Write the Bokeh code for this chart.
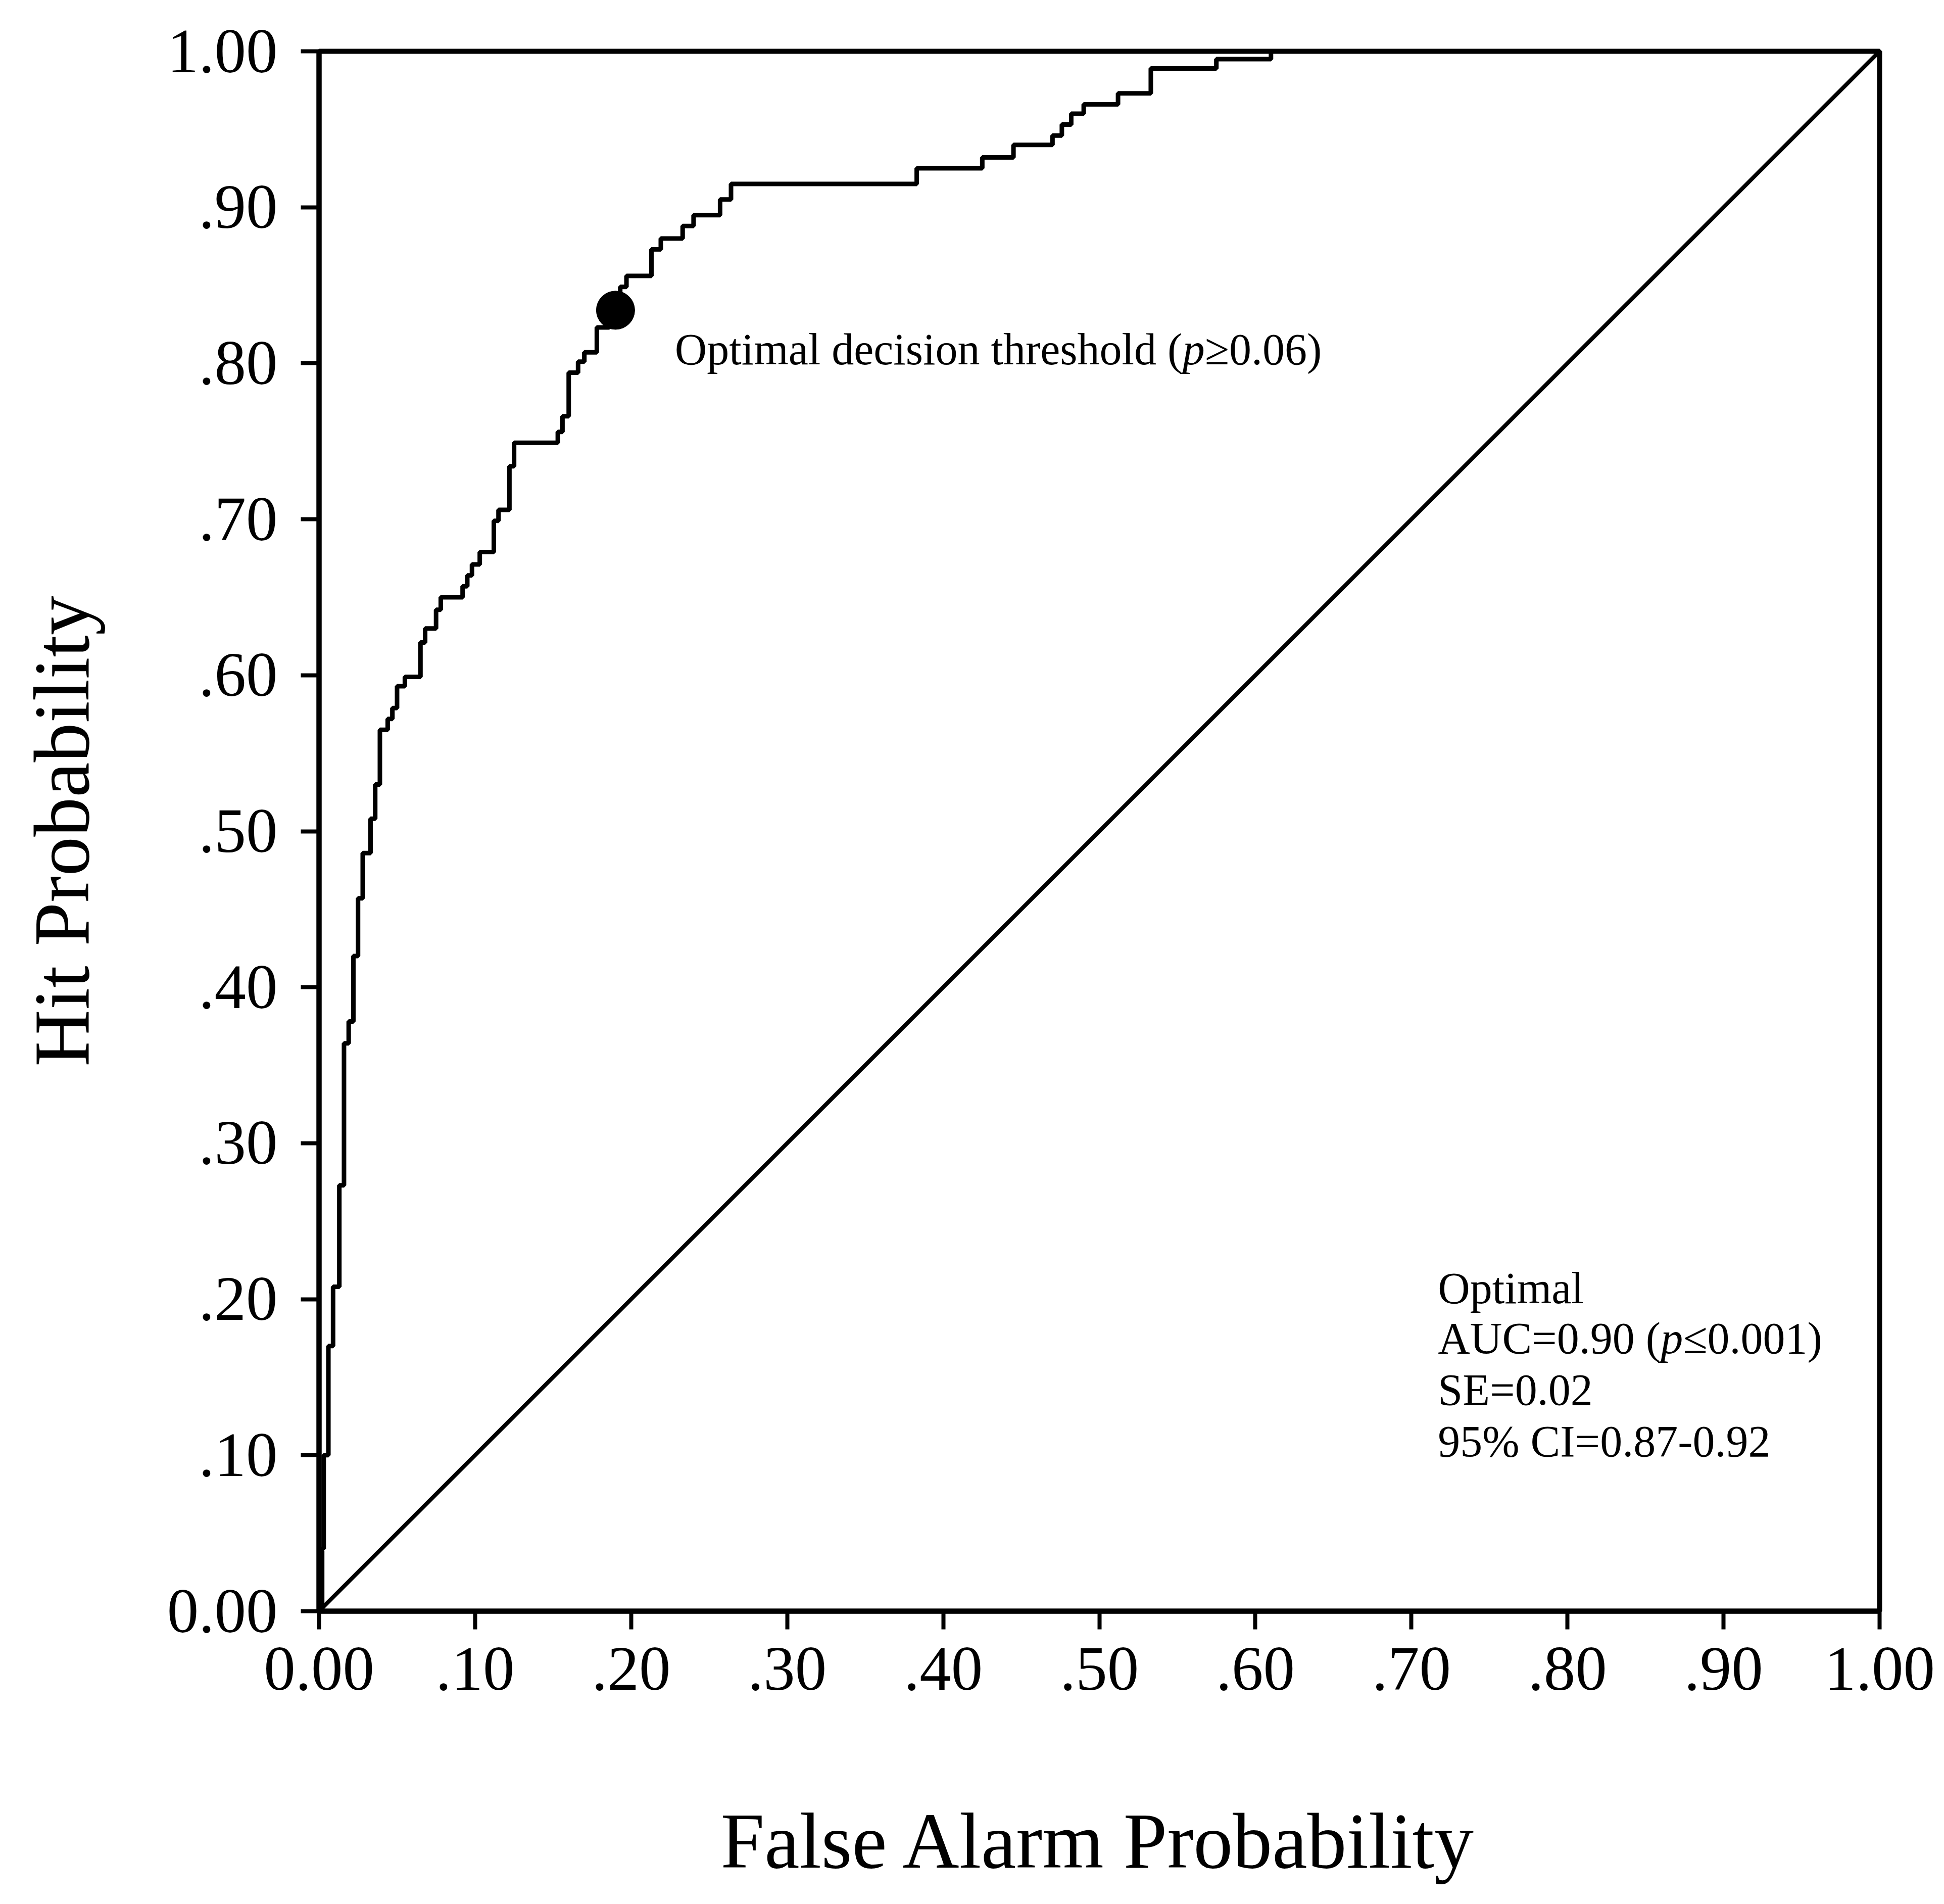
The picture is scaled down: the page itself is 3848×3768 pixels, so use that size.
from bokeh.plotting import figure
from bokeh.models import Range1d, FixedTicker, Label
from bokeh.embed import file_html
from bokeh.resources import INLINE

# ---------------- data ----------------
# ROC curve vertices: at each false-alarm value the hit probability rises to the listed value
fpr = [0.000, 0.002, 0.003, 0.006, 0.009, 0.013, 0.016, 0.019, 0.022, 0.025,
       0.028, 0.033, 0.036, 0.039, 0.044, 0.047, 0.050, 0.055, 0.065, 0.068,
       0.075, 0.078, 0.092, 0.095, 0.098, 0.103, 0.112, 0.115, 0.122, 0.125,
       0.153, 0.156, 0.160, 0.166, 0.170, 0.178, 0.186, 0.193, 0.197, 0.213,
       0.219, 0.233, 0.240, 0.257, 0.264, 0.383, 0.425, 0.445, 0.470, 0.476,
       0.482, 0.490, 0.512, 0.533, 0.575, 0.610, 1.000]
tpr = [0.000, 0.040, 0.100, 0.170, 0.208, 0.273, 0.364, 0.378, 0.420, 0.457,
       0.486, 0.508, 0.530, 0.565, 0.572, 0.579, 0.593, 0.599, 0.621, 0.630,
       0.642, 0.650, 0.657, 0.664, 0.671, 0.679, 0.699, 0.706, 0.734, 0.749,
       0.756, 0.766, 0.794, 0.801, 0.807, 0.823, 0.840, 0.849, 0.856, 0.873,
       0.880, 0.888, 0.895, 0.905, 0.915, 0.925, 0.932, 0.940, 0.946, 0.953,
       0.960, 0.966, 0.973, 0.989, 0.995, 1.000, 1.000]

chance_x = [0.0, 1.0]
chance_y = [0.0, 1.0]

threshold_fpr = [0.190]
threshold_tpr = [0.834]

ticks = [0.0, 0.1, 0.2, 0.3, 0.4, 0.5, 0.6, 0.7, 0.8, 0.9, 1.0]
tick_labels = ["0.00", ".10", ".20", ".30", ".40", ".50", ".60", ".70", ".80", ".90", "1.00"]

x_title = "False Alarm Probability"
y_title = "Hit Probability"

threshold_text = ["Optimal decision threshold (", "p", "\u22650.06)"]
stats_lines = ["Optimal", "AUC=0.90 (", "p", "\u22640.001)", "SE=0.02", "95% CI=0.87-0.92"]

FONT = "Liberation Serif"

# ---------------- figure ----------------
p = figure(width=3848, height=3768, output_backend="svg", toolbar_location=None,
           x_range=Range1d(0, 1), y_range=Range1d(0, 1),
           min_border_left=631, min_border_right=128,
           min_border_top=101, min_border_bottom=580,
           background_fill_color="white", border_fill_color="white")

p.xgrid.grid_line_color = None
p.ygrid.grid_line_color = None
p.outline_line_color = "black"
p.outline_line_width = 10
p.outline_line_alpha = 1.0

overrides = {t: lab for t, lab in zip(ticks, tick_labels)}
for ax in (p.xaxis[0], p.yaxis[0]):
    ax.ticker = FixedTicker(ticks=ticks)
    ax.major_label_overrides = overrides
    ax.axis_line_width = 10
    ax.axis_line_color = "black"
    ax.major_tick_line_width = 8
    ax.major_tick_line_color = "black"
    ax.major_tick_out = 36
    ax.major_tick_in = 0
    ax.minor_tick_line_color = None
    ax.major_label_text_font = FONT
    ax.major_label_text_font_size = "125px"
    ax.major_label_text_color = "black"
    ax.axis_label_text_font = FONT
    ax.axis_label_text_font_style = "normal"
    ax.axis_label_text_color = "black"

p.xaxis.axis_label = x_title
p.xaxis.major_label_standoff = 37
p.xaxis.axis_label_standoff = 210
p.xaxis.axis_label_text_font_size = "156px"

p.yaxis.axis_label = y_title
p.yaxis.major_label_standoff = 46
p.yaxis.axis_label_standoff = 119
p.yaxis.axis_label_text_font_size = "156px"

# chance diagonal
p.line(chance_x, chance_y, line_color="black", line_width=8)
# ROC step curve
p.step(fpr, tpr, mode="after", line_color="black", line_width=9)
# optimal threshold marker
p.scatter(threshold_fpr, threshold_tpr, size=76, marker="circle",
          fill_color="black", line_color="black")

# ---------------- annotations ----------------
TS = "88px"

def lab(x, y, text, xoff=0, italic=False):
    p.add_layout(Label(x=x, y=y, x_offset=xoff, text=text, text_font=FONT,
                       text_font_size=TS, text_color="black",
                       text_font_style="italic" if italic else "normal",
                       text_baseline="alphabetic", text_align="left"))

# threshold annotation (p in italics)
ty = 0.809
lab(0.228, ty, threshold_text[0])
lab(0.228, ty, threshold_text[1], xoff=1005, italic=True)
lab(0.228, ty, threshold_text[2], xoff=1049)

# statistics block
sx = 0.717
lab(sx, 0.207, stats_lines[0])
lab(sx, 0.175, stats_lines[1])
lab(sx, 0.175, stats_lines[2], xoff=441, italic=True)
lab(sx, 0.175, stats_lines[3], xoff=485)
lab(sx, 0.142, stats_lines[4])
lab(sx, 0.109, stats_lines[5])

open("out.html", "w").write(file_html(p, INLINE))
